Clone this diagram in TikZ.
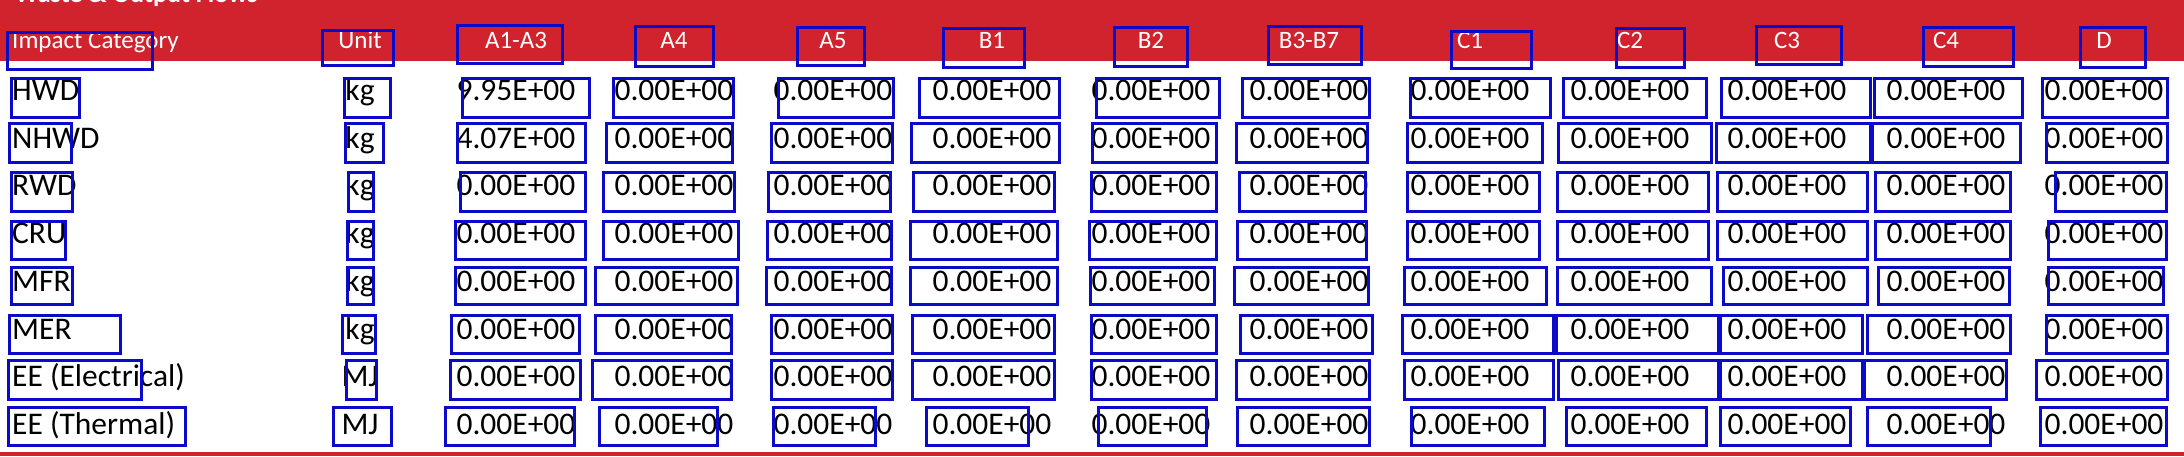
\documentclass[tikz,border=0pt]{standalone}
\usepackage{fontspec}
\setmainfont{Carlito}
\definecolor{hdrred}{RGB}{208,35,45}
\definecolor{annblue}{RGB}{10,10,200}
\tikzset{
  bodytxt/.style={font=\fontsize{31.5}{31.5}\selectfont, text=black, inner sep=0pt, anchor=base},
  labtxt/.style={bodytxt, anchor=base west},
  hdrtxt/.style={font=\fontsize{25}{25}\selectfont, text=white, inner sep=0pt, anchor=base},
  titletxt/.style={font=\fontsize{26}{26}\selectfont\bfseries, text=white, inner sep=0pt, anchor=base west},
  annbox/.style={draw=annblue, line width=3pt},
}
\newcommand\abx[4]{\draw[annbox] (#1,#3) rectangle (#2,#4);}
\begin{document}
\begin{tikzpicture}[x=1pt,y=-1pt]
\useasboundingbox (0,0) rectangle (2184,456);
\clip (0,0) rectangle (2184,456);
\fill[white] (0,0) rectangle (2184,456);
\fill[hdrred] (0,0) rectangle (2184,61);
\fill[hdrred] (0,452) rectangle (2184,456);
\node[titletxt] (title) at (15,2.5) {Waste \& Output Flows};
% header texts
\node[hdrtxt, anchor=base west] (hcat) at (12,48) {Impact Category};
\node[hdrtxt] (hunit) at (360,48) {Unit};
\foreach \cx/\lab [count=\i] in {516/A1-A3,674/A4,833/A5,992/B1,1151/B2,1309/B3-B7,1470/C1,1630/C2,1787/C3,1946/C4,2104/D}{
  \node[hdrtxt] (h\i) at (\cx,48) {\lab};
}
% row labels and units
\foreach \bl/\lab/\un [count=\r] in {100/HWD/kg,148/NHWD/kg,195/RWD/kg,243/CRU/kg,291/MFR/kg,339/MER/kg,386/EE (Electrical)/MJ,434/EE (Thermal)/MJ}{
  \node[labtxt] (lab\r) at (12,\bl) {\lab};
  \node[bodytxt] (unit\r) at (360,\bl) {\un};
}
% values
\foreach \bl/\first [count=\r] in {100/9.95E+00,148/4.07E+00,195/0.00E+00,243/0.00E+00,291/0.00E+00,339/0.00E+00,386/0.00E+00,434/0.00E+00}{
  \node[bodytxt] (v\r-1) at (516,\bl) {\first};
  \foreach \cx [count=\i from 2] in {674,833,992,1151,1309,1470,1630,1787,1946,2104}{
    \node[bodytxt] (v\r-\i) at (\cx,\bl) {0.00E+00};
  }
}
% annotation boxes: header
\foreach \a/\b/\c/\d in {7/152/32/69,322/393/30/65,457/562/25/63,635/713/26/66,797/864/27/65,943/1024/28/67,1114/1187/27/66,1268/1361/26/64,1451/1531/31/68,1616/1684/28/67,1756/1841/26/64,1923/2013/27/66,2080/2145/27/67}{
  \abx{\a}{\b}{\c}{\d}
}
% row 1
\foreach \a/\b in {11/79,344/390,462/589,613/733,778/893,919/1059,1096/1219,1242/1369,1410/1550,1563/1706,1721/1870,1874/2022,2042/2167}{
  \abx{\a}{\b}{78}{117}
}
% row 2
\foreach \a/\b in {9/71,345/383,457/585,606/732,771/892,911/1059,1092/1216,1236/1367,1407/1542,1558/1711,1716/1870,1872/2020,2046/2167}{
  \abx{\a}{\b}{123}{162}
}
% row 3
\foreach \a/\b in {11/72,348/373,460/585,603/734,768/890,913/1054,1091/1216,1239/1365,1407/1539,1557/1708,1717/1867,1875/2010,2055/2166}{
  \abx{\a}{\b}{172}{211}
}
% row 4
\foreach \a/\b in {11/65,347/373,455/585,603/738,767/891,910/1057,1089/1216,1237/1366,1407/1539,1557/1708,1717/1867,1875/2010,2048/2166}{
  \abx{\a}{\b}{221}{259}
}
% row 5
\foreach \a/\b in {11/72,347/373,455/585,595/737,766/891,910/1057,1090/1214,1234/1368,1404/1546,1557/1711,1723/1867,1878/2009,2048/2163}{
  \abx{\a}{\b}{267}{304}
}
% row 6
\foreach \a/\b in {9/120,342/375,451/579,595/731,771/892,912/1054,1091/1216,1240/1372,1402/1553,1556/1718,1720/1862,1867/2010,2046/2167}{
  \abx{\a}{\b}{315}{353}
}
% row 7
\foreach \a/\b in {8/141,346/376,450/580,592/731,771/892,912/1054,1091/1216,1236/1369,1404/1553,1558/1718,1720/1862,1864/2006,2036/2167}{
  \abx{\a}{\b}{360}{399}
}
% row 8
\foreach \a/\b in {8/185,333/391,445/574,599/717,773/875,926/1028,1098/1206,1237/1369,1411/1544,1566/1706,1720/1850,1867/1990,2040/2166}{
  \abx{\a}{\b}{407}{445}
}
\end{tikzpicture}
\end{document}
